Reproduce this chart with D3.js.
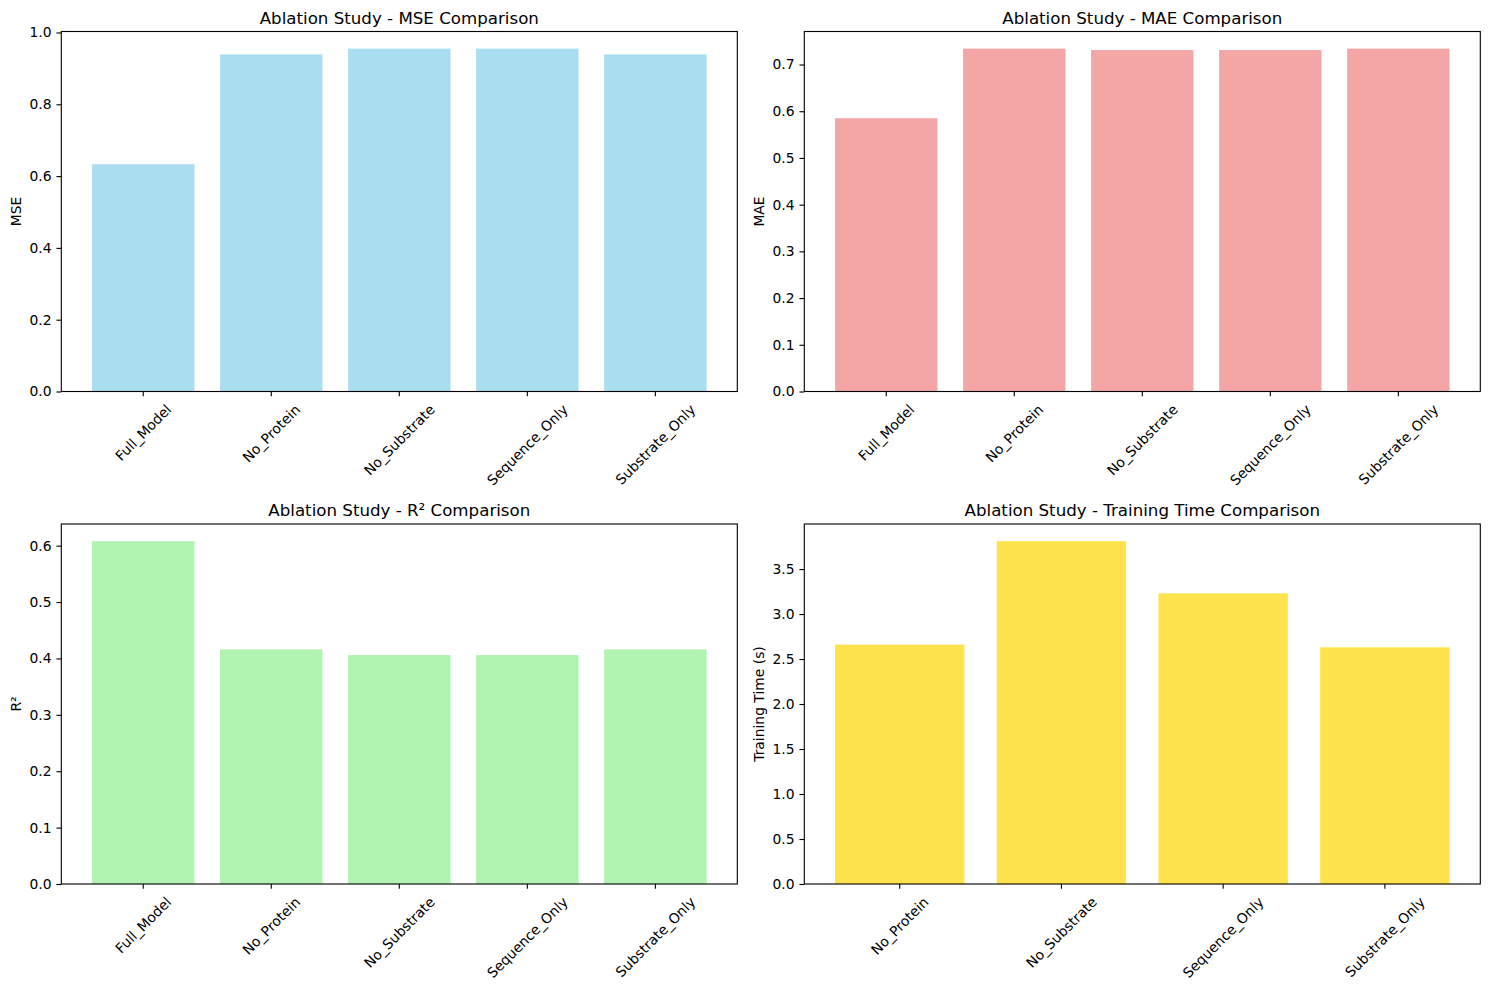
<!DOCTYPE html>
<html lang="en">
<head>
<meta charset="utf-8">
<title>Ablation Study</title>
<style>
  body { margin: 0; background: #fff; }
  text { font-family: "DejaVu Sans", sans-serif; fill: #000; }
</style>
</head>
<body>
<div id="chart"></div>
<script src="https://d3js.org/d3.v7.min.js"></script>
<script>
// data
var models = ["Full_Model", "No_Protein", "No_Substrate", "Sequence_Only", "Substrate_Only"];
var mseValues = [0.633, 0.939, 0.955, 0.955, 0.939];
var maeValues = [0.585, 0.734, 0.731, 0.731, 0.734];
var r2Values = [0.608, 0.416, 0.406, 0.406, 0.416];
var timeModels = ["No_Protein", "No_Substrate", "Sequence_Only", "Substrate_Only"];
var timeValues = [2.66, 3.81, 3.23, 2.63];

var mseTicks = [0.0, 0.2, 0.4, 0.6, 0.8, 1.0];
var maeTicks = [0.0, 0.1, 0.2, 0.3, 0.4, 0.5, 0.6, 0.7];
var r2Ticks = [0.0, 0.1, 0.2, 0.3, 0.4, 0.5, 0.6];
var timeTicks = [0.0, 0.5, 1.0, 1.5, 2.0, 2.5, 3.0, 3.5];

var W = 1489, H = 989;
var axW = 676, axH = 360;
var px = 100 / 72; // matplotlib pt -> px at dpi 100

var panels = [
  {x: 61.3, y: 31.5, title: "Ablation Study - MSE Comparison", ylabel: "MSE", cats: models, vals: mseValues, ticks: mseTicks, color: "#87CEEB"},
  {x: 804.3, y: 31.5, title: "Ablation Study - MAE Comparison", ylabel: "MAE", cats: models, vals: maeValues, ticks: maeTicks, color: "#F08080"},
  {x: 61.3, y: 524, title: "Ablation Study - R\u00b2 Comparison", ylabel: "R\u00b2", cats: models, vals: r2Values, ticks: r2Ticks, color: "#90EE90"},
  {x: 804.3, y: 524, title: "Ablation Study - Training Time Comparison", ylabel: "Training Time (s)", cats: timeModels, vals: timeValues, ticks: timeTicks, color: "#FFD700"}
];

var svg = d3.select("#chart").append("svg")
    .attr("width", W)
    .attr("height", H);

panels.forEach(function(p) {
  var n = p.cats.length;
  var m = 0.05 * (n - 0.2);
  var x = d3.scaleLinear().domain([-0.4 - m, n - 0.6 + m]).range([0, axW]);
  var y = d3.scaleLinear().domain([0, d3.max(p.vals) * 1.05]).range([axH, 0]);

  var g = svg.append("g").attr("transform", "translate(" + p.x + "," + p.y + ")");

  g.selectAll("rect.bar")
    .data(p.vals)
    .enter()
    .append("rect")
    .attr("class", "bar")
    .attr("x", function(d, i) { return x(i - 0.4); })
    .attr("width", function(d, i) { return x(i + 0.4) - x(i - 0.4); })
    .attr("y", function(d) { return y(d); })
    .attr("height", function(d) { return axH - y(d); })
    .attr("fill", p.color)
    .attr("fill-opacity", 0.7);

  // frame
  g.append("rect")
    .attr("width", axW).attr("height", axH)
    .attr("fill", "none").attr("stroke", "#000").attr("stroke-width", 0.8 * px);

  // y axis
  var yAxis = d3.axisLeft(y)
    .tickValues(p.ticks)
    .tickFormat(d3.format(".1f"))
    .tickSize(3.5 * px)
    .tickPadding(3.5 * px);
  var ya = g.append("g").call(yAxis);
  ya.select(".domain").remove();
  ya.selectAll("line").attr("stroke", "#000").attr("stroke-width", 0.8 * px);
  ya.selectAll("text").style("font-size", (10 * px) + "px").attr("font-family", "DejaVu Sans");

  // x axis ticks
  var xg = g.append("g").attr("transform", "translate(0," + axH + ")");
  xg.selectAll("line")
    .data(p.cats)
    .enter()
    .append("line")
    .attr("x1", function(d, i) { return x(i); })
    .attr("x2", function(d, i) { return x(i); })
    .attr("y1", 0).attr("y2", 3.5 * px)
    .attr("stroke", "#000").attr("stroke-width", 0.8 * px);

  var fs = 10 * px;
  xg.selectAll("text")
    .data(p.cats)
    .enter()
    .append("text")
    .text(function(d) { return d; })
    .style("font-size", fs + "px")
    .attr("text-anchor", "middle")
    .attr("dominant-baseline", "central")
    .attr("transform", function(d, i) {
      var w = this.getComputedTextLength();
      var h = fs * 1.17;
      var bh = (w + h) * Math.SQRT1_2;
      var cy = 7 * px + bh / 2;
      return "translate(" + x(i) + "," + cy + ") rotate(-45)";
    });

  // title
  g.append("text")
    .attr("x", axW / 2)
    .attr("y", -7.7)
    .attr("text-anchor", "middle")
    .style("font-size", (12 * px) + "px")
    .text(p.title);

  // y label
  g.append("text")
    .attr("transform", "translate(-45," + (axH / 2) + ") rotate(-90)")
    .attr("text-anchor", "middle")
    .attr("dominant-baseline", "central")
    .style("font-size", fs + "px")
    .text(p.ylabel);
});
</script>
</body>
</html>
